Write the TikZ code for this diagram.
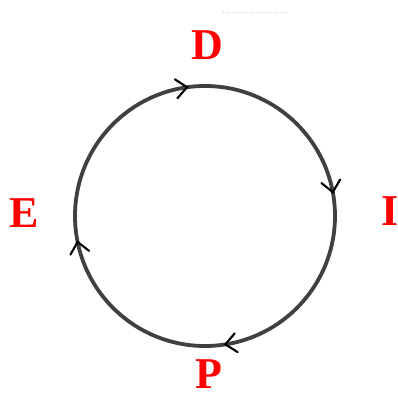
\documentclass[tikz,border=0pt]{standalone}
\usepackage{fontspec}
\setmainfont{Liberation Serif}
\usetikzlibrary{decorations.markings}
\tikzset{
  lbl/.style={text=red, font=\fontsize{44}{44}\selectfont\bfseries, inner sep=0pt},
  ring/.style={draw=black!75, line width=3.8pt},
  chev/.style={draw=black, line width=2.1pt, line cap=round, line join=miter}
}
\begin{document}
\begin{tikzpicture}[x=1pt,y=1pt]
\useasboundingbox (0,0) rectangle (398,394);
\fill[white] (0,0) rectangle (398,394);
\coordinate (c) at (205,178);
\draw[ring, postaction={decorate}, decoration={markings,
  mark=at position 0.228 with {\draw[chev] (-11,9.5) -- (0,0) -- (-11,-9.5);},
  mark=at position 0.4706 with {\draw[chev] (-11,9.5) -- (0,0) -- (-11,-9.5);},
  mark=at position 0.725 with {\draw[chev] (-11,9.5) -- (0,0) -- (-11,-9.5);},
  mark=at position 0.968 with {\draw[chev] (-11,9.5) -- (0,0) -- (-11,-9.5);}}]
  (c) ++(180:130) arc[start angle=180, end angle=-180, radius=130];
\node[lbl] (D) at (207.5,349) {D};
\node[lbl] (I) at (390,183) {I};
\node[lbl] (E) at (24.5,181) {E};
\node[lbl] (P) at (208.5,20) {P};
\draw[black!20, line width=1pt, dotted] (223,381) -- (287,381);
\end{tikzpicture}
\end{document}
